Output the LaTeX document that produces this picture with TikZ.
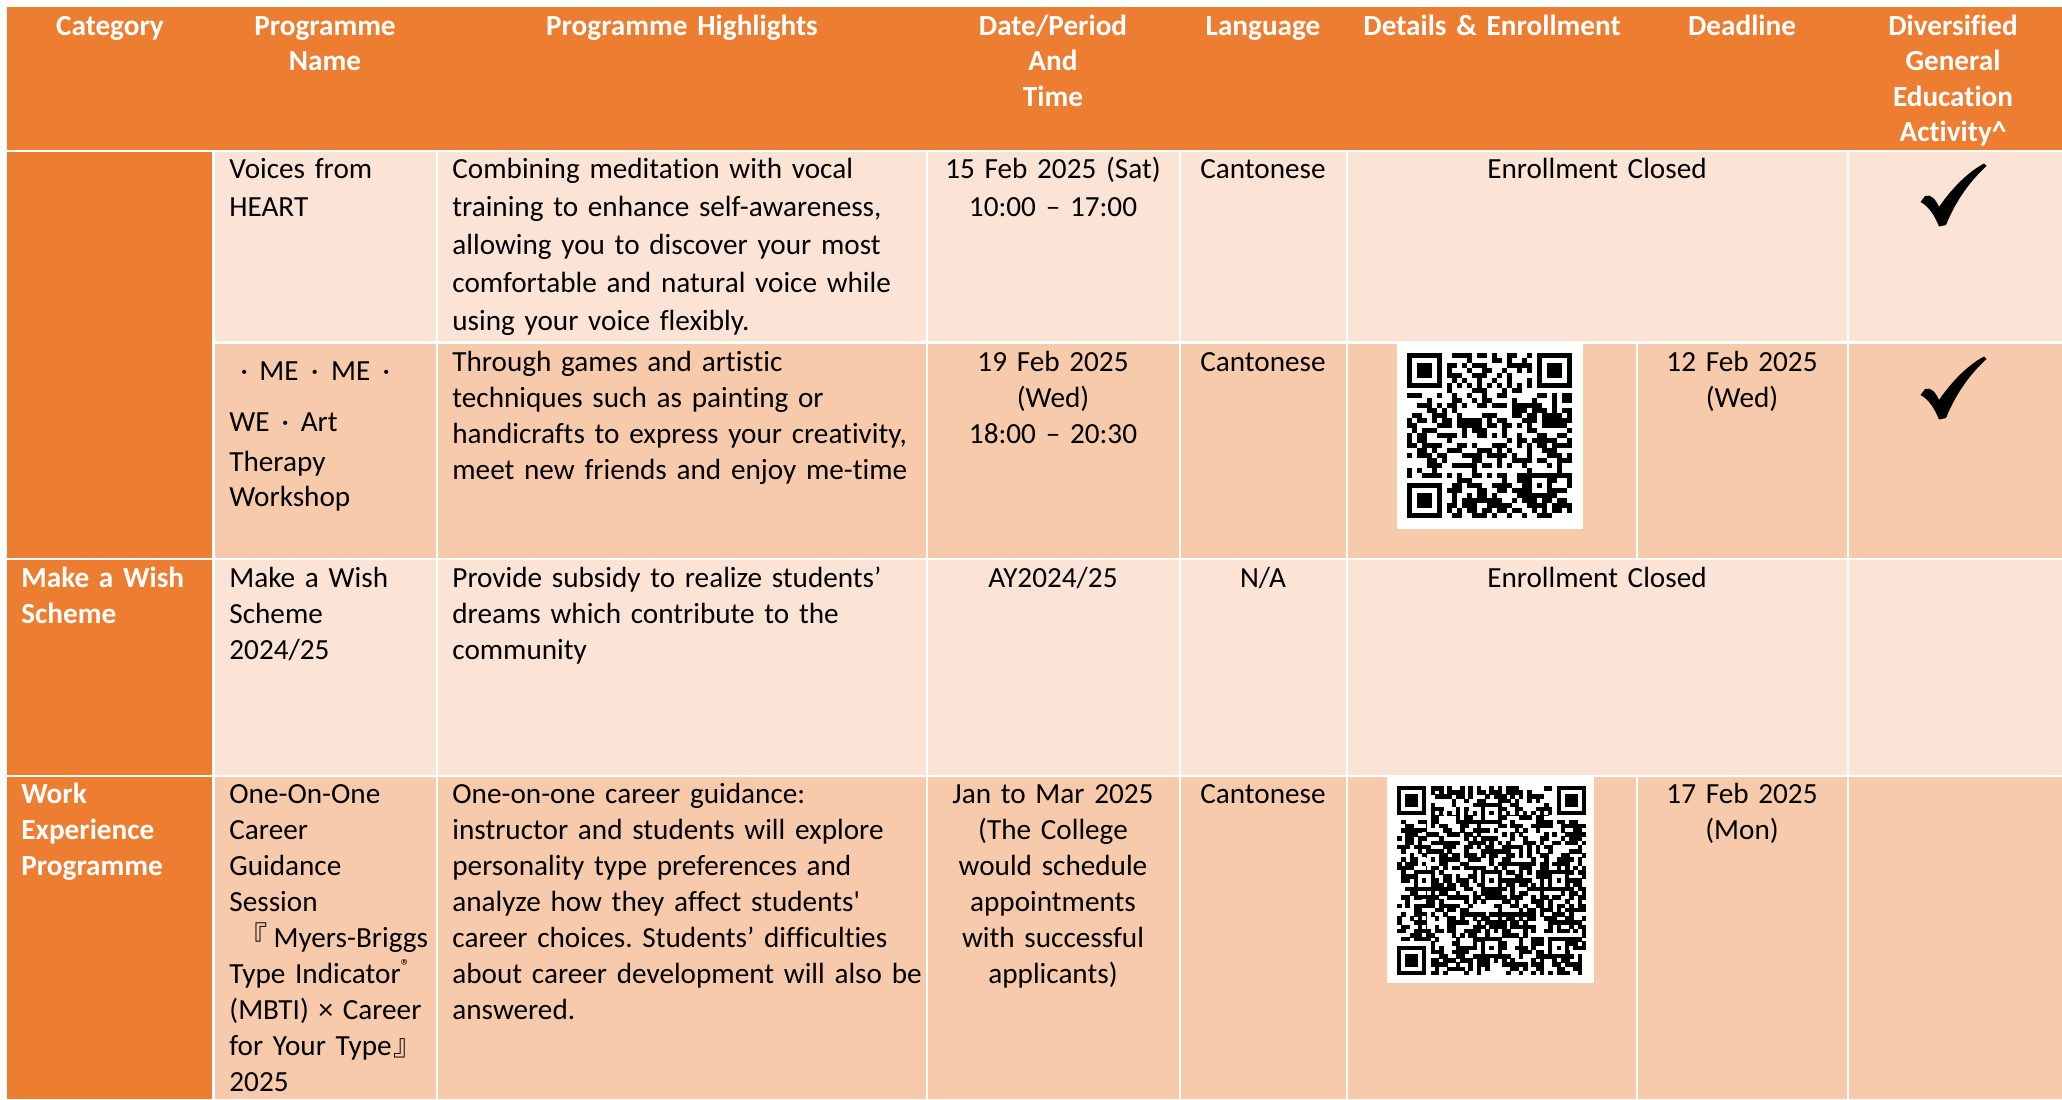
\documentclass[tikz,border=0pt]{standalone}
\usepackage{fontspec}
\setmainfont{Carlito}[Ligatures={TeXOff,CommonOff}]
\newfontfamily\cjk{Noto Sans CJK SC}
\definecolor{org}{HTML}{ED7D31}
\definecolor{lgt}{HTML}{FBE4D5}
\definecolor{mid}{HTML}{F7CAAC}
\frenchspacing
\newcommand\fsz[1]{\fontsize{14.6pt}{#1}\selectfont}
% QR helpers
\newcommand\qrfind[3]{%
  \fill[white] ({#1-#3},{#2-#3}) rectangle +({9*#3},{9*#3});
  \fill[black] ({#1},{#2}) rectangle +({7*#3},{7*#3});
  \fill[white] ({#1+#3},{#2+#3}) rectangle +({5*#3},{5*#3});
  \fill[black] ({#1+2*#3},{#2+2*#3}) rectangle +({3*#3},{3*#3});
}
\newcommand\qralign[5]{% x0,y0,m,i,j (centre module)
  \fill[black] ({#1+(#4-2)*#3},{#2+(#5-2)*#3}) rectangle +({5*#3},{5*#3});
  \fill[white] ({#1+(#4-1)*#3},{#2+(#5-1)*#3}) rectangle +({3*#3},{3*#3});
  \fill[black] ({#1+#4*#3},{#2+#5*#3}) rectangle +({#3},{#3});
}
\newcommand\qrcode[5]{% x0,y0,N,m,seed
  \pgfmathsetseed{#5}%
  \pgfmathtruncatemacro\qrlast{#3-1}%
  \foreach \qi in {0,...,\qrlast}{\foreach \qj in {0,...,\qrlast}{%
    \pgfmathparse{rnd}\ifdim\pgfmathresult pt<0.52pt\relax
      \fill ({#1+\qi*#4},{#2+\qj*#4}) rectangle +({#4+0.3},{#4+0.3});\fi}}
  \qrfind{#1}{#2}{#4}
  \qrfind{#1+(#3-7)*#4}{#2}{#4}
  \qrfind{#1}{#2+(#3-7)*#4}{#4}
  \pgfmathtruncatemacro\qrt{#3-9}%
  \fill[white] ({#1+8*#4},{#2+6*#4}) rectangle +({(#3-16)*#4},{#4});
  \fill[white] ({#1+6*#4},{#2+8*#4}) rectangle +({#4},{(#3-16)*#4});
  \foreach \qk in {8,10,...,\qrt}{%
    \fill ({#1+\qk*#4},{#2+6*#4}) rectangle +({#4},{#4});
    \fill ({#1+6*#4},{#2+\qk*#4}) rectangle +({#4},{#4});}
}
\newcommand\mychk[1]{%
  \begin{scope}[shift={(0,#1)}]
  \fill[black] (1920.5,202) -- (1925,196)
    .. controls (1931,193.5) and (1936,200) .. (1939,207)
    .. controls (1952,188) and (1968,172) .. (1984,163.5)
    -- (1986.5,166)
    .. controls (1971,180) and (1956,200) .. (1946,225)
    -- (1939,226.5)
    .. controls (1934,214) and (1928,206) .. (1920.5,202) -- cycle;
  \end{scope}}
\begin{document}
\begin{tikzpicture}[x=0.5pt,y=-0.5pt,
  sep/.style={white,line width=1.25pt},
  txt/.style={inner sep=0pt,anchor=north west,text width=260pt,align=left},
  ctr/.style={inner sep=0pt,anchor=north,text width=160pt,align=center},
  one/.style={inner sep=0pt,anchor=base west,font=\fsz{18pt}},
  hd/.style={inner sep=0pt,anchor=north,text width=160pt,align=center,text=white,font=\fsz{17.75pt}\bfseries},
  cat/.style={txt,text=white,font=\fsz{18pt}\bfseries}]
\useasboundingbox (0,0) rectangle (2062,1099);
\fill[white] (0,0) rectangle (2062,1099);
% backgrounds
\fill[org] (7,7) rectangle (2062,151);
\fill[org] (7,151) rectangle (213.5,1099);
\fill[lgt] (213.5,151) rectangle (2062,342.5);
\fill[mid] (213.5,342.5) rectangle (2062,559);
\fill[lgt] (213.5,559) rectangle (2062,776);
\fill[mid] (213.5,776) rectangle (2062,1099);
% white rules
\draw[sep] (7,151) -- (2062,151);
\draw[sep] (213.5,342.5) -- (2062,342.5);
\draw[sep] (7,559) -- (2062,559);
\draw[sep] (7,776) -- (2062,776);
\foreach \cx in {213.5,437,927,1180,1347,1848}{\draw[sep] (\cx,151) -- (\cx,1099);}
\draw[sep] (1637,342.5) -- (1637,559);
\draw[sep] (1637,776) -- (1637,1099);
% QR codes
\fill[white] (1397,343) rectangle (1583,529);
\qrcode{1407}{353}{33}{5}{4711}
\qralign{1407}{353}{5}{26}{26}
\fill[white] (1387,776) rectangle (1594,983);
\qrcode{1397}{786}{45}{4.2}{2025}
\qralign{1397}{786}{4.2}{6}{22}
\qralign{1397}{786}{4.2}{22}{6}
\qralign{1397}{786}{4.2}{22}{22}
\qralign{1397}{786}{4.2}{22}{38}
\qralign{1397}{786}{4.2}{38}{22}
\qralign{1397}{786}{4.2}{38}{38}
% header
\node[hd] (hcat) at (110,10.15) {\strut Category};
\node[hd] (hname) at (325,10.15) {\strut Programme\\Name};
\node[hd] (hhigh) at (682,10.15) {\strut Programme Highlights};
\node[hd] (hdate) at (1053,10.15) {\strut Date/Period\\And\\Time};
\node[hd] (hlang) at (1263,10.15) {\strut Language};
\node[hd] (hdet) at (1492,10.15) {\strut Details \& Enrollment};
\node[hd] (hdead) at (1742,10.15) {\strut Deadline};
\node[hd] (hdiv) at (1953,10.15) {\strut Diversified\\General\\Education\\Activity\textasciicircum};
% row 1
\node[txt,font=\fsz{19pt}] (n1) at (229,151.4) {\strut Voices from\\HEART};
\node[txt,font=\fsz{19pt}] (h1) at (452,151.4) {\strut Combining meditation with vocal\\training to enhance self-awareness,\\allowing you to discover your most\\comfortable and natural voice while\\using your voice flexibly.};
\node[ctr,font=\fsz{19pt}] (d1) at (1053,151.4) {\strut 15 Feb 2025 (Sat)\\10:00 – 17:00};
\node[ctr,font=\fsz{19pt}] (l1) at (1263,151.4) {\strut Cantonese};
\node[ctr,font=\fsz{19pt}] (e1) at (1597,151.4) {\strut Enrollment Closed};
\mychk{0}
% row 2
\node[one] (n2a) at (229,380.7) {\makebox[15pt][c]{·}ME\makebox[16.3pt][c]{·}ME\makebox[16pt][c]{·}};
\node[one] (n2b) at (229,431.7) {WE\makebox[15.6pt][c]{·}Art};
\node[one] (n2c) at (229,471.7) {Therapy};
\node[one] (n2d) at (229,506.7) {Workshop};
\node[txt,font=\fsz{18pt}] (h2) at (452,345.8) {\strut Through games and artistic\\techniques such as painting or\\handicrafts to express your creativity,\\meet new friends and enjoy me-time};
\node[ctr,font=\fsz{18pt}] (d2) at (1053,345.8) {\strut 19 Feb 2025\\(Wed)\\18:00 – 20:30};
\node[ctr,font=\fsz{18pt}] (l2) at (1263,345.8) {\strut Cantonese};
\node[ctr,font=\fsz{18pt}] (dl2) at (1742,345.8) {\strut 12 Feb 2025\\(Wed)};
\mychk{193}
% row 3
\node[cat] (c3) at (21,561.8) {\strut Make a Wish\\Scheme};
\node[txt,font=\fsz{18pt}] (n3) at (229,561.8) {\strut Make a Wish\\Scheme\\2024/25};
\node[txt,font=\fsz{18pt}] (h3) at (452,561.8) {\strut Provide subsidy to realize students’\\dreams which contribute to the\\community};
\node[ctr,font=\fsz{18pt}] (d3) at (1053,561.8) {\strut AY2024/25};
\node[ctr,font=\fsz{18pt}] (l3) at (1263,561.8) {\strut N/A};
\node[ctr,font=\fsz{18pt}] (e3) at (1597,561.8) {\strut Enrollment Closed};
% row 4
\node[cat] (c4) at (21,777.8) {\strut Work\\Experience\\Programme};
\node[txt,font=\fsz{18pt}] (n4) at (229,777.8) {\strut One-On-One\\Career\\Guidance\\Session\\\hspace*{4.5pt}{\cjk 『}\hspace{3pt}Myers-Briggs\\Type Indicator\raisebox{0.36em}{\fontsize{9.5pt}{9.5pt}\selectfont ®}\\(MBTI) × Career\\for Your Type\hspace{1pt}{\cjk 』}\\2025};
\node[txt,font=\fsz{18pt}] (h4) at (452,777.8) {\strut One-on-one career guidance:\\instructor and students will explore\\personality type preferences and\\analyze how they affect students'\\career choices. Students’ difficulties\\about career development will also be\\answered.};
\node[ctr,font=\fsz{18pt}] (d4) at (1053,777.8) {\strut Jan to Mar 2025\\(The College\\would schedule\\appointments\\with successful\\applicants)};
\node[ctr,font=\fsz{18pt}] (l4) at (1263,777.8) {\strut Cantonese};
\node[ctr,font=\fsz{18pt}] (dl4) at (1742,777.8) {\strut 17 Feb 2025\\(Mon)};
\end{tikzpicture}
\end{document}
